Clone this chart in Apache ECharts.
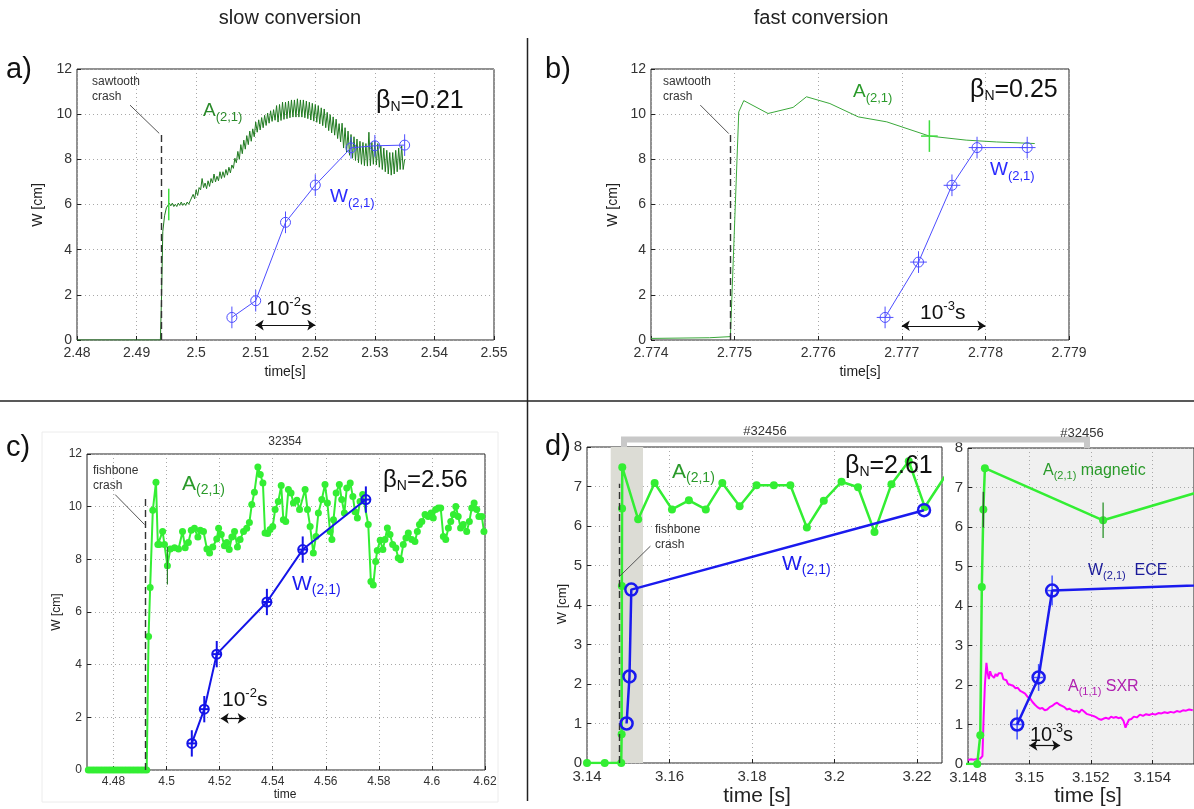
<!DOCTYPE html>
<html><head><meta charset="utf-8">
<script src="https://cdn.jsdelivr.net/npm/echarts@6/dist/echarts.min.js"></script>
<style>html,body{margin:0;padding:0;background:#fff}#c{width:1194px;height:809px}</style>
</head><body><div id="c"></div>
<script>
const FF = '"Liberation Sans", Arial, Helvetica, sans-serif';

// ---------- panel a (slow conversion, sawtooth) ----------
const aGreen = [[2.480,0],[2.4940,0],[2.4942,2.0],[2.4944,4.8],[2.4947,5.5],[2.4950,5.85],
[2.49550,6.06],[2.49575,5.94],[2.49600,6.06],[2.49625,5.91],[2.49650,6.01],[2.49675,5.91],[2.49700,6.06],[2.49725,5.96],[2.49750,6.11],[2.49775,5.96],
[2.49800,6.06],[2.49825,5.96],[2.49850,6.11],[2.49875,6.01],[2.49900,6.16],[2.49925,6.1],[2.49950,6.45],[2.49975,6.25],[2.50000,6.65],[2.50025,6.4],
[2.50050,6.75],[2.50075,6.65],[2.50100,7.15],[2.50125,6.75],[2.50150,6.95],[2.50175,6.7],[2.50200,7.05],[2.50225,6.8],[2.50250,7.15],[2.50275,6.95],
[2.50300,7.35],[2.50325,7.0],[2.50350,7.25],[2.50375,7.05],[2.50400,7.45],[2.50425,7.15],[2.50450,7.45],[2.50475,7.2],[2.50500,7.55],[2.50525,7.3],
[2.50550,7.65],[2.50575,7.4],[2.50600,7.75],[2.50625,7.6],[2.50650,8.05],[2.50675,7.85],[2.50700,8.35],[2.50725,8.0],[2.50750,8.65],[2.50775,8.25],
[2.50800,8.85],[2.50825,8.45],[2.50850,9.05],[2.50875,8.65],[2.50900,9.25],[2.50925,8.8],[2.50950,9.35],[2.50975,9.0],[2.51000,9.65],[2.51025,9.2],
[2.51050,9.75],[2.51075,9.3],[2.51100,9.85],[2.51125,9.4],[2.51150,9.95],[2.51175,9.5],[2.51200,10.05],[2.51225,9.6],[2.51250,10.15],[2.51275,9.68],
[2.51300,10.2],[2.51325,9.73],[2.51350,10.38],[2.51375,9.65],[2.51400,10.43],[2.51425,9.72],[2.51450,10.53],[2.51475,9.77],[2.51500,10.53],[2.51525,9.8],
[2.51550,10.58],[2.51575,9.84],[2.51600,10.63],[2.51625,9.87],[2.51650,10.63],[2.51675,9.87],[2.51700,10.68],[2.51725,9.87],[2.51750,10.63],[2.51775,9.87],
[2.51800,10.63],[2.51825,9.84],[2.51850,10.58],[2.51875,9.8],[2.51900,10.53],[2.51925,9.74],[2.51950,10.48],[2.51975,9.69],[2.52000,10.43],[2.52025,9.64],
[2.52050,10.38],[2.52075,9.57],[2.52100,10.28],[2.52125,9.49],[2.52150,10.23],[2.52175,9.4],[2.52200,10.08],[2.52225,9.27],[2.52250,9.98],[2.52275,9.17],
[2.52300,9.88],[2.52325,9.07],[2.52350,9.78],[2.52375,8.92],[2.52400,9.58],[2.52425,8.77],[2.52450,9.6],[2.52475,8.5],[2.52500,9.4],[2.52525,8.32],
[2.52550,9.25],[2.52575,8.18],[2.52600,9.1],[2.52625,8.05],[2.52650,9.0],[2.52675,7.95],[2.52700,8.9],[2.52725,7.85],[2.52750,8.8],[2.52775,7.78],
[2.52800,8.75],[2.52825,7.72],[2.52850,8.7],[2.52875,7.7],[2.52900,9.2],[2.52925,7.72],[2.52950,8.75],[2.52975,7.78],[2.53000,8.8],[2.53025,7.75],
[2.53050,8.7],[2.53075,7.65],[2.53100,8.6],[2.53125,7.55],[2.53150,8.5],[2.53175,7.45],[2.53200,8.4],[2.53225,7.35],[2.53250,8.3],[2.53275,7.3],
[2.53300,8.3],[2.53325,7.35],[2.53350,8.4],[2.53375,7.45],[2.53400,8.5],[2.53425,7.55],[2.53450,8.6],[2.53475,7.55],[2.53500,8.0]];
const aGreenErr = [[2.4954,6.0,0.7,0]];
const aW = [[2.506,1.0],[2.510,1.74],[2.515,5.21],[2.520,6.86],[2.526,8.51],[2.530,8.6],[2.535,8.63]];
const aWErr = [0.48,0.48,0.48,0.48,0.48,0.48,0.48];
const aCrash = 2.4941;

// ---------- panel b (fast conversion, sawtooth) ----------
const bGreen = [[2.7740,0.07],[2.7747,0.1],[2.77495,0.15],[2.77505,10.1],[2.77511,10.6],[2.7754,10.03],[2.7757,10.3],[2.77586,10.77],[2.77614,10.47],[2.77648,9.88],[2.77682,9.66],[2.77733,9.03],[2.77777,8.85],[2.77813,8.77],[2.77859,8.7]];
const bGreenErr = [[2.77733,9.03,0.7,0.0001]];
const bW = [[2.7768,1.0],[2.7772,3.45],[2.7776,6.85],[2.7779,8.52],[2.7785,8.52]];
const bWErr = [0.48,0.48,0.48,0.48,0.48];
const bCrash = 2.77495;

// ---------- panel c (fishbone, #32354) ----------
const cGreen = [[4.4705,0],[4.4715,0],[4.4725,0],[4.4735,0],[4.4745,0],[4.4755,0],[4.4765,0],[4.4775,0],[4.4785,0],[4.4795,0],[4.4805,0],[4.4815,0],[4.4825,0],[4.4835,0],[4.4845,0],[4.4855,0],[4.4865,0],[4.4875,0],[4.4885,0],[4.4895,0],[4.4905,0],[4.4915,0],[4.4925,0],
[4.4932,5.07],[4.4938,6.93],[4.4948,9.86],[4.4960,10.93],[4.4967,8.56],[4.4973,8.56],[4.4985,9.06],[4.4992,8.56],[4.5003,7.76],[4.5014,8.39],[4.5030,8.44],[4.5045,8.39],[4.5060,9.06],[4.5070,8.44],[4.5082,8.64],[4.5093,9.1],[4.5105,9.18],[4.5118,8.85],[4.5127,9.1],[4.5139,9.06],[4.5152,8.39],[4.5162,8.24],[4.5174,8.47],[4.5189,8.77],[4.5196,9.18],[4.5206,8.94],[4.5218,8.52],[4.5227,8.64],[4.5236,8.37],[4.5246,8.85],[4.5256,9.06],[4.5267,8.47],[4.5277,8.75],[4.5290,9.06],[4.5302,9.18],[4.5312,9.4],[4.5321,10.08],[4.5331,10.55],[4.5344,11.51],[4.5353,11.22],[4.5363,10.9],[4.5371,9.0],[4.5381,8.98],[4.5390,9.13],[4.5400,9.25],[4.5409,9.89],[4.5421,10.2],[4.5432,10.8],[4.5440,9.5],[4.5449,9.44],[4.5459,10.65],[4.5469,10.52],[4.5478,10.14],[4.5491,10.24],[4.5501,9.89],
[4.5522,10.65],[4.5531,9.89],[4.5541,9.25],[4.5553,8.24],[4.5563,8.87],[4.5572,9.76],[4.5585,10.27],[4.5597,10.84],[4.5606,10.14],[4.5616,9.06],[4.5623,8.75],[4.5629,9.5],[4.5639,10.52],[4.5651,10.84],[4.5660,10.27],[4.5670,9.76],[4.5679,10.71],[4.5692,10.9],[4.5702,10.39],[4.5710,9.81],[4.5719,9.57],[4.5729,10.2],[4.5739,10.46],[4.5760,9.32],[4.5770,7.16],[4.5779,7.03],[4.5788,7.92],[4.5794,8.34],[4.5805,8.72],[4.5815,8.37],[4.5823,8.75],[4.5832,9.19],[4.5842,8.94],[4.5852,8.56],[4.5864,8.43],[4.5873,8.05],[4.5882,7.98],[4.5892,8.56],[4.5902,8.81],[4.5911,9.0],[4.5924,8.75],[4.5936,8.68],[4.5945,9.06],[4.5953,9.32],[4.5962,9.44],[4.5974,9.7],[4.5986,9.63],[4.5997,9.76],[4.6005,9.57],[4.6014,9.89],[4.6024,9.95],[4.6033,9.95],[4.6043,8.87],[4.6052,8.75],[4.6062,9.19],[4.6071,9.44],[4.6081,9.7],[4.6090,10.01],[4.6099,9.63],[4.6108,9.19],[4.6118,9.32],[4.6131,9.06],[4.6141,9.44],[4.6150,9.95],[4.6159,10.14],[4.6169,9.89],[4.6177,9.63],[4.6188,9.63],[4.6196,9.06]];
const cGreenErr = [[4.5003,7.76,0.72,0]];
const cW = [[4.5095,1.01],[4.5142,2.31],[4.5189,4.4],[4.5378,6.38],[4.5513,8.37],[4.5751,10.27]];
const cWErr = [0.5,0.5,0.5,0.5,0.5,0.5];
const cTicks = [4.48,4.5,4.52,4.54,4.56,4.58,4.6,4.62];
const cCrash = 4.4918;

// ---------- panel d (fishbone, #32456) ----------
const dGreen = [[3.1400,0],[3.1443,0],[3.1483,0],[3.1484,0.73],[3.14845,4.48],[3.1485,6.44],[3.14855,7.49],[3.1524,6.17],[3.1564,7.09],[3.1606,6.42],[3.1647,6.65],[3.1688,6.42],[3.1728,7.09],[3.1770,6.5],[3.1811,7.03],[3.1853,7.03],[3.1893,7.03],[3.1933,5.96],[3.1974,6.64],[3.2017,7.12],[3.2057,6.98],[3.2097,5.85],[3.2138,7.06],[3.2180,7.64],[3.2219,6.48],[3.2280,7.45]];
const dGreenErr = [[3.1485,6.44,0.45,0]];
const dGreenErr2 = [[3.1524,6.17,0.45,0]];
const dW = [[3.1496,1.0],[3.1503,2.19],[3.15074,4.39],[3.2217,6.4]];
const dWErr = [[0.38,0.00015],[0.34,0.00015],[0.38,0.00016]];
const dSXR = [[3.14800,0.10],[3.14810,0.12],[3.14820,0.11],[3.14830,0.13],[3.14840,0.14],[3.14847,0.20],[3.14851,1.2],[3.14855,2.0],[3.14860,2.56],[3.14864,2.3],[3.14868,2.15],[3.14872,2.35],[3.14876,2.25],[3.14880,2.3],[3.14885,2.18],[3.14890,2.28],[3.14895,2.22],[3.14900,2.30],[3.14905,2.26],[3.14910,2.30],[3.14915,2.15],[3.14920,2.10],[3.14925,2.12],[3.14930,2.03],[3.14935,2.07],[3.14940,2.00],[3.14947,1.98],[3.14955,1.92],[3.14962,1.93],[3.14970,1.85],[3.14978,1.82],[3.14986,1.78],[3.14994,1.70],[3.15002,1.66],[3.15010,1.57],[3.15018,1.50],[3.15026,1.44],[3.15034,1.40],[3.15042,1.42],[3.15050,1.36],[3.15058,1.38],[3.15066,1.44],[3.15074,1.47],[3.15082,1.52],[3.15090,1.55],[3.15098,1.50],[3.15106,1.47],[3.15114,1.44],[3.15122,1.38],[3.15130,1.40],[3.15138,1.36],[3.15146,1.33],[3.15154,1.35],[3.15162,1.30],[3.15170,1.38],[3.15178,1.33],[3.15186,1.27],[3.15194,1.25],[3.15202,1.23],[3.15210,1.21],[3.15218,1.18],[3.15226,1.14],[3.15234,1.12],[3.15242,1.15],[3.15250,1.17],[3.15258,1.14],[3.15266,1.20],[3.15274,1.17],[3.15282,1.19],[3.15290,1.16],[3.15298,1.18],[3.15306,1.10],[3.15313,0.92],[3.15318,1.02],[3.15324,1.12],[3.15332,1.14],[3.15340,1.20],[3.15350,1.18],[3.15360,1.25],[3.15370,1.22],[3.15380,1.26],[3.15390,1.24],[3.15400,1.27],[3.15410,1.25],[3.15420,1.29],[3.15430,1.28],[3.15440,1.31],[3.15450,1.29],[3.15460,1.32],[3.15470,1.30],[3.15480,1.34],[3.15490,1.32],[3.15500,1.36],[3.15510,1.35],[3.15520,1.38],[3.15532,1.36]];
const dCrash = 3.1478;
const dZoomBand = [3.14575, 3.15358];

// ---------- helpers ----------
const gridColor = '#a8a8a8';
function xAx(gi, min, max, interval, fs, extra) {
  return Object.assign({
    type:'value', gridIndex:gi, min, max, interval,
    axisLine:{show:false},
    axisTick:{show:true, inside:true, length:4, lineStyle:{color:'#222'}},
    axisLabel:{fontSize:fs, color:'#333', fontFamily:FF, margin:6, showMinLabel:true, showMaxLabel:true},
    splitLine:{show:true, lineStyle:{color:gridColor, type:[1,3], width:1}}
  }, extra||{});
}
function yAx(gi, max, interval, fs) {
  return {
    type:'value', gridIndex:gi, min:0, max, interval,
    axisLine:{show:false},
    axisTick:{show:true, inside:true, length:4, lineStyle:{color:'#222'}},
    axisLabel:{fontSize:fs, color:'#333', fontFamily:FF, margin:5},
    splitLine:{show:true, lineStyle:{color:gridColor, type:[1,3], width:1}}
  };
}
function errSeries(gi, data, color, width) {
  return {type:'custom', xAxisIndex:gi, yAxisIndex:gi, data, z:4, silent:true, clip:true,
    encode:{x:0, y:1}, animation:false,
    renderItem:(params, api) => {
      const x = api.value(0), y = api.value(1), ey = api.value(2), ex = api.value(3);
      const a = api.coord([x, y-ey]), b = api.coord([x, y+ey]);
      const ch = [{type:'line', shape:{x1:a[0],y1:a[1],x2:b[0],y2:b[1]}, style:{stroke:color, lineWidth:width}}];
      if (ex > 0) {
        const l = api.coord([x-ex, y]), r = api.coord([x+ex, y]);
        ch.push({type:'line', shape:{x1:l[0],y1:l[1],x2:r[0],y2:r[1]}, style:{stroke:color, lineWidth:width}});
      }
      return {type:'group', children:ch};
    }};
}
function seg(p1, p2, style, sym) {
  const s = sym || 'none';
  return [{coord:p1, symbol:s, lineStyle:style}, {coord:p2, symbol:s}];
}
const dashStyle = {color:'#333', width:1.4, type:[7,4]};
const leadStyle = {color:'#555', width:1, type:'solid'};
const arrowStyle = {color:'#111', width:1.2, type:'solid'};
function marks(items) {
  return {silent:true, symbol:['none','none'], symbolSize:8, label:{show:false}, animation:false, data:items};
}
function ring(color, bw) { return {color:'rgba(0,0,0,0)', borderColor:color, borderWidth:bw}; }

// text helpers
function T(x, y, text, size, color, opts) {
  return Object.assign({type:'text', x, y, z:100, silent:true,
    style:{text, fontSize:size, fontFamily:FF, fill:color, align:'left', verticalAlign:'middle'}}, opts||{});
}
function sub(x, y, parts, size, subSize, color, align) {
  let s = '';
  parts.forEach(p => { s += '{' + (p[1] ? 's' : 'm') + '|' + p[0] + '}'; });
  return {type:'text', x, y, z:100, silent:true,
    style:{text:s, fill:color, fontFamily:FF, fontSize:size, align:align||'left', verticalAlign:'middle',
      rich:{m:{fontSize:size, fill:color, fontFamily:FF},
            s:{fontSize:subSize, fill:color, fontFamily:FF, padding:[Math.round(subSize*0.9),0,0,0]}}}};
}
function sup(x, y, base, exp, unit, size, supSize, color) {
  return {type:'text', x, y, z:100, silent:true,
    style:{text:'{m|'+base+'}{p|'+exp+'}{m|'+unit+'}', fill:color, fontFamily:FF, fontSize:size, align:'left', verticalAlign:'middle',
      rich:{m:{fontSize:size, fill:color, fontFamily:FF},
            p:{fontSize:supSize, fill:color, fontFamily:FF, padding:[0,0,Math.round(supSize*1.0),0]}}}};
}
function vlabel(x, y, text, size) {
  return {type:'text', x, y, z:100, rotation:Math.PI/2, silent:true,
    style:{text, fontSize:size, fontFamily:FF, fill:'#222', align:'center', verticalAlign:'middle'}};
}
function clabel(x, y, text, size, color) {
  return {type:'text', x, y, z:100, silent:true,
    style:{text, fontSize:size, fontFamily:FF, fill:color||'#222', align:'center', verticalAlign:'middle'}};
}

const GA = '#2a8a2a';
const chart = echarts.init(document.getElementById('c'), null, {renderer:'canvas'});
const option = {
  animation:false,
  backgroundColor:'#ffffff',
  grid:[
    {left:77, top:69, width:417, height:271, show:true, borderColor:'#222', borderWidth:1, backgroundColor:'#fff'},
    {left:651, top:69, width:418, height:271, show:true, borderColor:'#222', borderWidth:1, backgroundColor:'#fff'},
    {left:87, top:454, width:398, height:316, show:true, borderColor:'#222', borderWidth:1, backgroundColor:'#fff'},
    {left:587, top:447, width:355, height:316, show:true, borderColor:'#222', borderWidth:1, backgroundColor:'#fff'},
    {left:968, top:448, width:227, height:316, show:true, borderColor:'#222', borderWidth:1, backgroundColor:'#f0f0f0'}
  ],
  xAxis:[
    xAx(0, 2.48, 2.55, 0.01, 14),
    xAx(1, 2.774, 2.779, 0.001, 14),
    xAx(2, 4.47, 4.62, null, 12, {
      axisTick:{show:true, inside:true, length:4, lineStyle:{color:'#222'}, customValues:cTicks},
      axisLabel:{fontSize:12, color:'#333', fontFamily:FF, margin:6, customValues:cTicks}
    }),
    xAx(3, 3.14, 3.22606, 0.02, 15, {
      axisLabel:{fontSize:15, color:'#333', fontFamily:FF, margin:6, showMinLabel:true, showMaxLabel:false}
    }),
    xAx(4, 3.148, 3.15536, 0.002, 15, {
      axisLabel:{fontSize:15, color:'#333', fontFamily:FF, margin:6, showMinLabel:true, showMaxLabel:false}
    })
  ],
  yAxis:[ yAx(0,12,2,14), yAx(1,12,2,14), yAx(2,12,2,12), yAx(3,8,1,15), yAx(4,8,1,15) ],
  series:[
    // ---- a ----
    {type:'line', xAxisIndex:0, yAxisIndex:0, data:aGreen, showSymbol:false, symbol:'none', z:3,
      lineStyle:{color:'#1f7a1f', width:1}, itemStyle:{color:'#1f7a1f'},
      markLine: marks([
        seg([aCrash,0],[aCrash,9.15], dashStyle),
        seg([2.4889,10.4],[2.4938,9.15], leadStyle),
        seg([2.510,0.66],[2.520,0.66], arrowStyle, 'arrow')
      ])},
    errSeries(0, aGreenErr, '#3fdd3f', 1.5),
    {type:'line', xAxisIndex:0, yAxisIndex:0, data:aW, symbol:'circle', symbolSize:10, z:5,
      lineStyle:{color:'#4d4dff', width:1}, itemStyle:ring('#4d4dff',1)},
    errSeries(0, aW.map((p,i)=>[p[0],p[1],aWErr[i],0]), '#4d4dff', 1),
    // ---- b ----
    {type:'line', xAxisIndex:1, yAxisIndex:1, data:bGreen, showSymbol:false, symbol:'none', z:3,
      lineStyle:{color:'#3aa83a', width:1}, itemStyle:{color:'#3aa83a'},
      markLine: marks([
        seg([bCrash,0],[bCrash,9.1], dashStyle),
        seg([2.77459,10.4],[2.77493,9.14], leadStyle),
        seg([2.777,0.63],[2.778,0.63], arrowStyle, 'arrow')
      ])},
    errSeries(1, bGreenErr, '#3fdd3f', 1.5),
    {type:'line', xAxisIndex:1, yAxisIndex:1, data:bW, symbol:'circle', symbolSize:10, z:5,
      lineStyle:{color:'#4d4dff', width:1}, itemStyle:ring('#4d4dff',1)},
    errSeries(1, bW.map((p,i)=>[p[0],p[1],bWErr[i],0.0001]), '#4d4dff', 1),
    // ---- c ----
    {type:'line', xAxisIndex:2, yAxisIndex:2, data:cGreen, symbol:'circle', symbolSize:7, z:3,
      lineStyle:{color:'#33ee33', width:2}, itemStyle:{color:'#33ee33'},
      markLine: marks([
        seg([cCrash,0],[cCrash,10.42], dashStyle),
        seg([4.4806,10.46],[4.4917,9.32], leadStyle),
        seg([4.5204,1.96],[4.5298,1.96], arrowStyle, 'arrow')
      ])},
    errSeries(2, cGreenErr, '#2e7d2e', 1.2),
    {type:'line', xAxisIndex:2, yAxisIndex:2, data:cW, symbol:'circle', symbolSize:9, z:5,
      lineStyle:{color:'#1414e8', width:2}, itemStyle:ring('#1414e8',2)},
    errSeries(2, cW.map((p,i)=>[p[0],p[1],cWErr[i],0.0018]), '#1414e8', 2),
    // ---- d left ----
    {type:'line', xAxisIndex:3, yAxisIndex:3, data:dGreen, symbol:'circle', symbolSize:8, z:3, clip:true,
      lineStyle:{color:'#33ee33', width:2.5}, itemStyle:{color:'#33ee33'},
      markArea:{silent:true, itemStyle:{color:'#dcdcd5'}, data:[[{xAxis:dZoomBand[0]},{xAxis:dZoomBand[1]}]]},
      markLine: marks([
        seg([dCrash,0],[dCrash,7.07], dashStyle),
        seg([3.15537,5.49],[3.14776,4.71], leadStyle)
      ])},
    {type:'line', xAxisIndex:3, yAxisIndex:3, data:dW, symbol:'circle', symbolSize:12, z:5,
      lineStyle:{color:'#1a1aee', width:2.5}, itemStyle:ring('#1a1aee',2.5)},
    // ---- d right ----
    {type:'line', xAxisIndex:4, yAxisIndex:4, data:dSXR, showSymbol:false, symbol:'none', z:2, clip:true,
      lineStyle:{color:'#ff00ff', width:2}, itemStyle:{color:'#ff00ff'},
      markLine: marks([ seg([3.15,0.47],[3.151,0.47], arrowStyle, 'arrow') ])},
    {type:'line', xAxisIndex:4, yAxisIndex:4, data:dGreen, symbol:'circle', symbolSize:8, z:3, clip:true,
      lineStyle:{color:'#33ee33', width:2.5}, itemStyle:{color:'#33ee33'}},
    errSeries(4, dGreenErr, '#2f5a2f', 1.4),
    errSeries(4, dGreenErr2, '#3a9a3a', 1.4),
    {type:'line', xAxisIndex:4, yAxisIndex:4, data:dW, symbol:'circle', symbolSize:12, z:5, clip:true,
      lineStyle:{color:'#1a1aee', width:2.5}, itemStyle:ring('#1a1aee',2.5)},
    errSeries(4, dW.slice(0,3).map((p,i)=>[p[0],p[1],dWErr[i][0],dWErr[i][1]]), '#4455ff', 1.5)
  ],
  graphic:[
    {type:'rect', z:-10, silent:true, shape:{x:42,y:432,width:456,height:370}, style:{fill:'rgba(0,0,0,0)', stroke:'#ececec', lineWidth:1}},
    {type:'line', z:50, silent:true, shape:{x1:527.5,y1:38,x2:527.5,y2:801}, style:{stroke:'#222', lineWidth:1.5}},
    {type:'line', z:50, silent:true, shape:{x1:0,y1:401,x2:1194,y2:401}, style:{stroke:'#222', lineWidth:1.5}},
    {type:'polyline', z:40, silent:true, shape:{points:[[624,447],[624,439.5],[1087,439.5],[1087,448]]}, style:{stroke:'#c8c8c8', lineWidth:6, fill:null, lineJoin:'miter'}},
    clabel(290, 18, 'slow conversion', 20, '#222'),
    clabel(821, 18, 'fast conversion', 20, '#222'),
    T(6, 70, 'a)', 29, '#111'),
    T(545, 70, 'b)', 29, '#111'),
    T(6, 448, 'c)', 29, '#111'),
    T(545, 447, 'd)', 29, '#111'),
    vlabel(38, 205, 'W [cm]', 14), clabel(285, 372, 'time[s]', 14),
    vlabel(613, 205, 'W [cm]', 14), clabel(860, 372, 'time[s]', 14),
    vlabel(57, 612, 'W [cm]', 12), clabel(285, 795, 'time', 12),
    vlabel(562, 604, 'W [cm]', 13), clabel(757, 796, 'time [s]', 21),
    clabel(1088, 796, 'time [s]', 21),
    T(92, 82, 'sawtooth', 12, '#333'), T(92, 97, 'crash', 12, '#333'),
    sub(203, 111, [['A',0],['(2,1)',1]], 19, 13, GA),
    sub(330, 197, [['W',0],['(2,1)',1]], 19, 13, '#2a2aff'),
    sub(376, 101, [['β',0],['N',1],['=0.21',0]], 25, 14, '#111'),
    sup(266, 309, '10', '-2', 's', 21, 13, '#111'),
    T(663, 82, 'sawtooth', 12, '#333'), T(663, 97, 'crash', 12, '#333'),
    sub(853, 92, [['A',0],['(2,1)',1]], 19, 13, '#2a9a2a'),
    sub(990, 170, [['W',0],['(2,1)',1]], 19, 13, '#2a2aff'),
    sub(970, 90, [['β',0],['N',1],['=0.25',0]], 25, 14, '#111'),
    sup(920, 313, '10', '-3', 's', 21, 13, '#111'),
    clabel(285, 442, '32354', 12, '#333'),
    T(93, 471, 'fishbone', 12, '#333'), T(93, 486, 'crash', 12, '#333'),
    sub(182, 484, [['A',0],['(2,1)',1]], 21, 14, '#2a9a2a'),
    sub(292, 584, [['W',0],['(2,1)',1]], 21, 14, '#1a1aee'),
    sub(383, 480, [['β',0],['N',1],['=2.56',0]], 24, 14, '#111'),
    sup(222, 700, '10', '-2', 's', 21, 13, '#111'),
    clabel(765, 431, '#32456', 13, '#333'),
    T(655, 530, 'fishbone', 12, '#333'), T(655, 545, 'crash', 12, '#333'),
    sub(672, 472, [['A',0],['(2,1)',1]], 21, 14, '#2a9a2a'),
    sub(782, 564, [['W',0],['(2,1)',1]], 21, 14, '#1a1aee'),
    sub(845, 466, [['β',0],['N',1],['=2.61',0]], 25, 14, '#111'),
    clabel(1082, 433, '#32456', 13, '#333'),
    sub(1043, 471, [['A',0],['(2,1)',1],[' magnetic',0]], 16, 11, '#2a9a2a'),
    sub(1088, 571, [['W',0],['(2,1)',1],['  ECE',0]], 16, 11, '#1a1a99'),
    sub(1068, 687, [['A',0],['(1,1)',1],[' SXR',0]], 16, 11, '#b020b0'),
    sup(1030, 735, '10', '-3', 's', 20, 12, '#111')
  ]
};
chart.setOption(option);
</script>
</body></html>
